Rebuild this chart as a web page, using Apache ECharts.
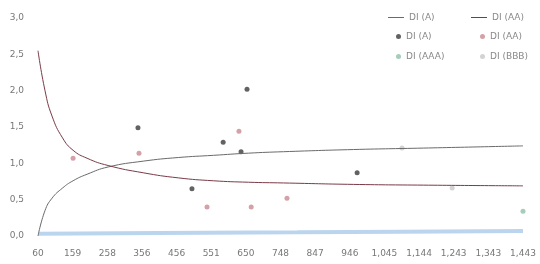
<html>
    <head>
        <meta charset='utf-8'>
        <script src='https://cdn.jsdelivr.net/npm/echarts@6/dist/echarts.min.js'></script>
    </head>
    <body>
        <style>
            html, body, #main {
                width: 100%;
                height: 100%;
                margin: 0;
                background: #fff;
            }
        </style>
        <div id='main'></div>
        <script>

            var xTickLabels = ['60', '159', '258', '356', '456', '551', '650', '748', '847', '946',
                '1,045', '1,144', '1,243', '1,343', '1,443'];
            var yTickLabels = ['0,0', '0,5', '1,0', '1,5', '2,0', '2,5', '3,0'];

            // fitted curves: [x, value]
            var curveA = [[60, 0], [80, 0.35], [100, 0.52], [130, 0.66], [160, 0.76], [200, 0.85],
                [260, 0.95], [360, 1.03], [460, 1.08], [560, 1.11], [660, 1.14], [760, 1.16],
                [960, 1.19], [1160, 1.21], [1443, 1.24]];
            var curveAA = [[60, 2.55], [80, 2.0], [100, 1.65], [130, 1.35], [160, 1.18], [200, 1.07],
                [260, 0.97], [360, 0.87], [460, 0.80], [560, 0.76], [660, 0.74], [760, 0.73],
                [960, 0.71], [1160, 0.70], [1443, 0.69]];
            var baseBand = [[60, 0.03], [400, 0.04], [800, 0.05], [1100, 0.06], [1443, 0.07]];

            var pointsA = [[345, 1.49], [656, 2.02], [588, 1.29], [639, 1.16], [499, 0.65], [970, 0.87]];
            var pointsAA = [[160, 1.07], [348, 1.14], [633, 1.44], [542, 0.40], [668, 0.40], [770, 0.52]];
            var pointsAAA = [[1443, 0.34]];
            var pointsBBB = [[1098, 1.21], [1241, 0.66]];

            var legendNames = {
                lineA: 'DI (A)', lineAA: 'DI (AA)',
                ptA: 'DI (A)', ptAA: 'DI (AA)', ptAAA: 'DI (AAA)', ptBBB: 'DI (BBB)'
            };

            var X_MIN = 60, X_MAX = 1443;
            var X_STEP = (X_MAX - X_MIN) / 14;

            var chart = echarts.init(document.getElementById('main'));

            var legendText = { fontSize: 9, color: '#888', fontFamily: 'DejaVu Sans' };
            function fmtLegend(n) { return legendNames[n]; }

            function lineLegend(left, name) {
                return {
                    left: left, top: 8,
                    itemWidth: 16, itemHeight: 1, itemGap: 2,
                    icon: 'rect',
                    textStyle: legendText,
                    formatter: fmtLegend,
                    data: [name]
                };
            }
            function dotLegend(left, names) {
                return {
                    orient: 'vertical',
                    left: left, top: 27,
                    itemWidth: 5, itemHeight: 5, itemGap: 11,
                    icon: 'circle',
                    textStyle: legendText,
                    formatter: fmtLegend,
                    data: names
                };
            }

            var option = {
                backgroundColor: '#fff',
                animation: false,
                grid: { left: 38, right: 17, top: 18, bottom: 28 },
                legend: [
                    lineLegend(383, 'lineA'),
                    lineLegend(466, 'lineAA'),
                    dotLegend(391, ['ptA', 'ptAAA']),
                    dotLegend(475, ['ptAA', 'ptBBB'])
                ],
                xAxis: {
                    type: 'value',
                    min: X_MIN,
                    max: X_MAX,
                    interval: X_STEP,
                    splitLine: { show: false },
                    axisLine: { show: false },
                    axisTick: { show: false },
                    axisLabel: {
                        fontSize: 9,
                        color: '#777',
                        margin: 13,
                        fontFamily: 'DejaVu Sans',
                        showMaxLabel: true,
                        formatter: function (v) {
                            return xTickLabels[Math.round((v - X_MIN) / X_STEP)];
                        }
                    }
                },
                yAxis: {
                    type: 'value',
                    min: 0,
                    max: 3,
                    interval: 0.5,
                    splitLine: { show: false },
                    axisLine: { show: false },
                    axisTick: { show: false },
                    axisLabel: {
                        fontSize: 9,
                        color: '#777',
                        margin: 14,
                        fontFamily: 'DejaVu Sans',
                        formatter: function (v) { return yTickLabels[Math.round(v / 0.5)]; }
                    }
                },
                series: [
                    {
                        name: 'band',
                        type: 'line',
                        data: baseBand,
                        symbol: 'none',
                        silent: true,
                        lineStyle: { color: '#bcd5ef', width: 4 }
                    },
                    {
                        name: 'lineA',
                        type: 'line',
                        data: curveA,
                        smooth: true,
                        symbol: 'none',
                        lineStyle: { color: '#6a6a6a', width: 1 },
                        itemStyle: { color: '#6a6a6a' }
                    },
                    {
                        name: 'lineAA',
                        type: 'line',
                        data: curveAA,
                        smooth: true,
                        symbol: 'none',
                        lineStyle: { color: '#7a3b48', width: 1 },
                        itemStyle: { color: '#7a3b48' }
                    },
                    {
                        name: 'ptA',
                        type: 'scatter',
                        data: pointsA,
                        symbolSize: 5,
                        itemStyle: { color: '#3b3b3b' }
                    },
                    {
                        name: 'ptAA',
                        type: 'scatter',
                        data: pointsAA,
                        symbolSize: 5,
                        itemStyle: { color: '#c98a92' }
                    },
                    {
                        name: 'ptAAA',
                        type: 'scatter',
                        data: pointsAAA,
                        symbolSize: 5,
                        itemStyle: { color: '#8fc0a8' }
                    },
                    {
                        name: 'ptBBB',
                        type: 'scatter',
                        data: pointsBBB,
                        symbolSize: 5,
                        itemStyle: { color: '#c8c8c8' }
                    }
                ]
            };

            chart.setOption(option);

        </script>
    </body>
</html>
